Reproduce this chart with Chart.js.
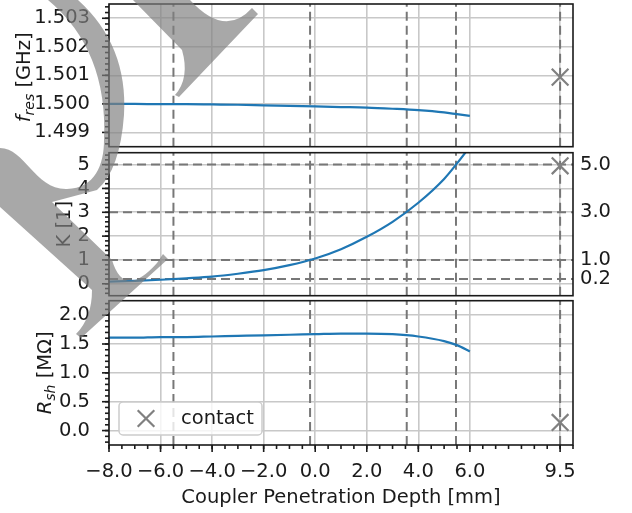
<!DOCTYPE html>
<html><head><meta charset="utf-8">
<script src="https://cdn.jsdelivr.net/npm/chart.js@4.4.1/dist/chart.umd.min.js"></script>
<style>
html,body{margin:0;padding:0;background:#fff;}
#wrap{position:relative;width:632px;height:513px;overflow:hidden;background:#fff;}
canvas{position:absolute;left:0;}
</style></head><body>
<div id="wrap">
<canvas id="c1" width="632" height="150" style="top:0px"></canvas>
<canvas id="c2" width="632" height="150" style="top:150px"></canvas>
<canvas id="c3" width="632" height="217" style="top:296px"></canvas>
<canvas id="wm" width="632" height="513" style="top:0px;opacity:0.68;pointer-events:none"></canvas>
</div>
<script>
// ---------------- data ----------------
const depth = [-8,-7,-6,-5,-4,-3,-2,-1,0,1,2,3,4,5,5.5,6];
const fres  = [1.50000,1.50000,1.49999,1.49999,1.49998,1.49997,1.49995,1.49993,1.49991,1.49989,1.49987,1.49983,1.49978,1.49970,1.49964,1.49958];
const kappa = [0.09,0.12,0.17,0.23,0.30,0.42,0.57,0.78,1.06,1.45,1.97,2.60,3.40,4.40,5.05,5.75];
const rsh   = [1.61,1.61,1.62,1.62,1.63,1.64,1.65,1.66,1.67,1.68,1.68,1.67,1.63,1.55,1.48,1.37];
const contactDepth = [9.5];
const contactFres  = [1.50094];
const contactK     = [4.95];
const contactRsh   = [0.14];
const kLevels      = [0.2, 1, 3, 5];
const kCrossDepth  = [-5.5, -0.2, 3.55, 5.46];
// ticks
const xTickVals   = [-8,-6,-4,-2,0,2,4,6,9.5];
const fresTicks   = [1.499,1.500,1.501,1.502,1.503];
const kTicks      = [0,1,2,3,4,5];
const kRightTicks = [0.2,1,3,5];
const rshTicks    = [0,0.5,1,1.5,2];
const xRange = [-8,10], fresRange = [1.4985,1.5035], kRange = [-0.5,5.5], rshRange = [-0.25,2.25];

// minor tick positions (axis decoration)
const xMinor=[], fresMinor=[], kMinor=[], rshMinor=[];
for (let i=-16;i<=20;i++) xMinor.push(i/2);
for (let v=14986; v<=15034; v+=2) fresMinor.push(v/10000);
for (let i=-2;i<=27;i++) kMinor.push(Math.round(i*2)/10);
for (let i=-2;i<=22;i++) rshMinor.push(i/10);

// ---------------- styles ----------------
const FONT = "'DejaVu Sans', sans-serif";
const FS = 19.5;
const INK = '#1a1a1a';
const GRID = '#c8c8c8';
const DASH = '#777777';
const BLUE = '#1f77b4';
const MARK = '#808080';

const decor = {
  id: 'decor',
  afterDraw(chart, args, o) {
    const ctx = chart.ctx, a = chart.chartArea;
    ctx.save();
    ctx.strokeStyle = INK; ctx.lineWidth = 1.6; ctx.lineCap = 'butt';
    const ys = chart.scales.y, xs = chart.scales.x;
    const tickY = (vals, len) => vals.forEach(v => {
      if (v < ys.min - 1e-9 || v > ys.max + 1e-9) return;
      const p = ys.getPixelForValue(v);
      ctx.beginPath(); ctx.moveTo(a.left, p); ctx.lineTo(a.left - len, p); ctx.stroke();
    });
    const tickX = (vals, len) => vals.forEach(v => {
      if (v < xs.min - 1e-9 || v > xs.max + 1e-9) return;
      const p = xs.getPixelForValue(v);
      ctx.beginPath(); ctx.moveTo(p, a.bottom); ctx.lineTo(p, a.bottom + len); ctx.stroke();
    });
    if (o.yMinor) tickY(o.yMinor, 4);
    if (o.yMajor) tickY(o.yMajor, 7);
    if (o.xMinor) tickX(o.xMinor, 4);
    if (o.xMajor) tickX(o.xMajor, 7);
    // legend
    if (o.legend) {
      const lx = a.left + 10, ly = a.bottom - 43, lw = 143, lh = 33;
      ctx.beginPath();
      ctx.roundRect(lx, ly, lw, lh, 4);
      ctx.fillStyle = 'rgba(255,255,255,0.8)'; ctx.fill();
      ctx.strokeStyle = '#cccccc'; ctx.lineWidth = 1.5; ctx.stroke();
      const mx = lx + 27, my = ly + 16.5, r = 8.3;
      ctx.strokeStyle = MARK; ctx.lineWidth = 2.2;
      ctx.beginPath(); ctx.moveTo(mx-r,my-r); ctx.lineTo(mx+r,my+r); ctx.moveTo(mx-r,my+r); ctx.lineTo(mx+r,my-r); ctx.stroke();
      ctx.fillStyle = INK; ctx.font = FS + 'px ' + FONT; ctx.textBaseline = 'middle'; ctx.textAlign = 'left';
      ctx.fillText(o.legend, lx + 62, my);
    }
    // frame
    ctx.strokeStyle = INK; ctx.lineWidth = 1.6;
    ctx.strokeRect(a.left, a.top, a.right - a.left, a.bottom - a.top);
    // rotated y title with sub-scripts
    if (o.title) {
      const cy = (a.top + a.bottom) / 2 + (o.titleDy || 0);
      ctx.translate(o.titleX, cy); ctx.rotate(-Math.PI/2);
      ctx.textBaseline = 'middle'; ctx.textAlign = 'left'; ctx.fillStyle = INK;
      let total = 0;
      o.title.forEach(p => { ctx.font = (p.i ? 'italic ' : '') + p.s + 'px ' + FONT; p.w = ctx.measureText(p.t).width; total += p.w; });
      let x = -total / 2;
      o.title.forEach(p => { ctx.font = (p.i ? 'italic ' : '') + p.s + 'px ' + FONT; ctx.fillText(p.t, x, p.dy || 0); x += p.w; });
    }
    ctx.restore();
  }
};

const fmtX = v => (v < 0 ? '\u2212' : '') + Math.abs(v).toFixed(1);
const yFont = {family: FONT, size: FS, lineHeight: 0.05};

function xScale(labels, height) {
  return {
    type: 'linear', min: xRange[0], max: xRange[1],
    afterBuildTicks: s => { s.ticks = xTickVals.map(v => ({value: v})); },
    grid: {color: GRID, lineWidth: 1.6, drawTicks: false},
    border: {display: false},
    ticks: labels ? {display: true, padding: 15, autoSkip: false, maxRotation: 0, color: INK,
                     font: {family: FONT, size: FS}, callback: v => fmtX(v)} : {display: false},
    title: labels ? {display: true, text: 'Coupler Penetration Depth [mm]', color: INK,
                     font: {family: FONT, size: FS}, padding: {top: 0, bottom: 3}} : {display: false},
    afterFit: s => { s.height = height; s.paddingLeft = 0; s.paddingRight = 0; }
  };
}
function yScale(range, ticks, fmt) {
  return {
    type: 'linear', min: range[0], max: range[1],
    afterBuildTicks: s => { s.ticks = ticks.map(v => ({value: v})); },
    grid: {color: GRID, lineWidth: 1.6, drawTicks: false},
    border: {display: false},
    ticks: {padding: 19, autoSkip: false, color: INK, font: yFont, callback: fmt},
    afterFit: s => { s.width = 109; s.paddingTop = 0; s.paddingBottom = 0; }
  };
}
const dashDs = data => ({data, showLine: true, borderColor: DASH, borderWidth: 2, borderDash: [9, 5],
                         pointRadius: 0, fill: false, order: 2});
const vLines = r => [...kCrossDepth, ...contactDepth].map(x => dashDs([{x, y: r[0]}, {x, y: r[1]}]));
const curve = vals => ({data: depth.map((x, i) => ({x, y: vals[i]})), showLine: true, borderColor: BLUE,
                        borderWidth: 2.2, pointRadius: 0, cubicInterpolationMode: 'monotone', fill: false, order: 0});
const contact = vals => ({label: 'contact', data: contactDepth.map((x, i) => ({x, y: vals[i]})), showLine: false,
                          pointStyle: 'crossRot', pointRadius: 11.8, borderColor: MARK, borderWidth: 2.2,
                          backgroundColor: 'rgba(0,0,0,0)', order: 1});
const common = {animation: false, responsive: false, devicePixelRatio: 1, events: []};

// place the plot area exactly where the reference has it (canvas coordinates)
function fitArea(chart, t, b) {
  for (let k = 0; k < 3; k++) {
    const a = chart.chartArea, p = chart.config.options.layout.padding;
    const dt = t - a.top, db = a.bottom - b;
    if (Math.abs(dt) < 0.2 && Math.abs(db) < 0.2) break;
    p.top += dt; p.bottom += db;
    chart.update('none');
  }
}

const ch1 = new Chart(document.getElementById('c1'), {
  type: 'scatter',
  data: {datasets: [curve(fres), contact(contactFres), ...vLines(fresRange)]},
  options: {...common,
    layout: {autoPadding: false, padding: {top: 4, bottom: 3, left: 0, right: 59}},
    scales: {x: xScale(false, 0), y: yScale(fresRange, fresTicks, v => v.toFixed(3))},
    plugins: {legend: {display: false}, tooltip: {enabled: false},
      decor: {yMajor: fresTicks, yMinor: fresMinor, titleX: 25, titleDy: 2,
        title: [{t: 'f', i: true, s: FS}, {t: 'res', i: true, s: 14, dy: 5}, {t: ' [GHz]', s: FS}]}}
  },
  plugins: [decor]
});
fitArea(ch1, 4, 146.7);

const ch2 = new Chart(document.getElementById('c2'), {
  type: 'scatter',
  data: {datasets: [curve(kappa), contact(contactK), ...vLines(kRange),
                    ...kLevels.map(y => dashDs([{x: xRange[0], y}, {x: xRange[1], y}]))]},
  options: {...common,
    layout: {autoPadding: false, padding: {top: 3, bottom: 4, left: 0, right: 0}},
    scales: {
      x: xScale(false, 0),
      y: yScale(kRange, kTicks, v => String(Math.round(v))),
      y2: {type: 'linear', position: 'right', min: kRange[0], max: kRange[1],
        afterBuildTicks: s => { s.ticks = kRightTicks.map(v => ({value: v})); },
        grid: {display: false, drawTicks: false}, border: {display: false},
        ticks: {padding: 7, autoSkip: false, color: INK, font: yFont, callback: v => v.toFixed(1)},
        afterFit: s => { s.width = 59; s.paddingTop = 0; s.paddingBottom = 0; }}
    },
    plugins: {legend: {display: false}, tooltip: {enabled: false},
      decor: {yMajor: kTicks, yMinor: kMinor, titleX: 65,
        title: [{t: 'K [1]', s: FS}]}}
  },
  plugins: [decor]
});
fitArea(ch2, 2.7, 145.7);

const ch3 = new Chart(document.getElementById('c3'), {
  type: 'scatter',
  data: {datasets: [curve(rsh), contact(contactRsh), ...vLines(rshRange)]},
  options: {...common,
    layout: {autoPadding: false, padding: {top: 5, bottom: 0, left: 0, right: 59}},
    scales: {x: xScale(true, 68), y: yScale(rshRange, rshTicks, v => v.toFixed(1))},
    plugins: {legend: {display: false}, tooltip: {enabled: false},
      decor: {yMajor: rshTicks, yMinor: rshMinor, xMajor: xTickVals, xMinor: xMinor, titleX: 46,
        legend: 'contact',
        title: [{t: 'R', i: true, s: FS}, {t: 'sh', i: true, s: 14, dy: 5}, {t: ' [M\u03A9]', s: FS}]}}
  },
  plugins: [decor]
});
fitArea(ch3, 4.7, 149);

// ---------------- grey watermark overlay (decoration) ----------------
const w = document.getElementById('wm').getContext('2d');
w.fillStyle = '#808080';
w.beginPath();
w.moveTo(48, 0); w.lineTo(78, 0);
w.quadraticCurveTo(128, 45, 124, 115);
w.quadraticCurveTo(120, 170, 97, 190);
w.lineTo(52, 202);
w.lineTo(112, 260);
w.quadraticCurveTo(124, 300, 157, 263);
w.lineTo(163, 254); w.lineTo(168, 259);
w.lineTo(81, 338); w.lineTo(76, 334);
w.quadraticCurveTo(92, 318, 92, 290);
w.lineTo(0, 207); w.lineTo(0, 148);
w.bezierCurveTo(25, 148, 35, 190, 67, 189);
w.bezierCurveTo(95, 188, 104, 165, 104, 140);
w.quadraticCurveTo(108, 50, 48, 0);
w.closePath(); w.fill();
w.beginPath();
w.moveTo(133, 0); w.lineTo(182, 50);
w.quadraticCurveTo(190, 78, 175, 95);
w.lineTo(179, 97); w.lineTo(258, 14); w.lineTo(252, 8);
w.quadraticCurveTo(225, 38, 190, 0);
w.closePath(); w.fill();
</script>
</body></html>
